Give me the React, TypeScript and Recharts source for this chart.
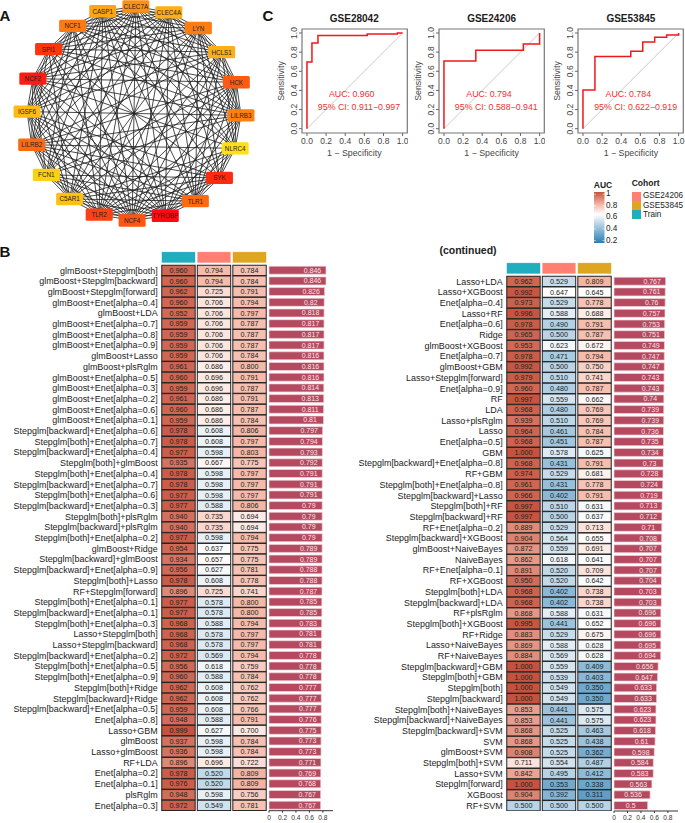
import React from "react";
import { ScatterChart, Scatter, BarChart, Bar, LineChart, Line, XAxis, YAxis, ReferenceLine, ReferenceArea, LabelList } from "recharts";

const FONT = "'Liberation Sans', Arial, sans-serif";

// ---------- Panel A ----------
const geneNames = ["CLEC7A","CLEC4A","LYN","HCLS1","HCK","LILRB3","NLRC4","SYK","TLR1","TYROBP","NCF4","TLR2","C5AR1","FCN1","LILRB2","IGSF6","NCF2","SPI1","NCF1","CASP1"];
const geneColors = ["#FF9010","#FFAE14","#FF7D10","#FFAF14","#FF5A10","#FF7F12","#FFE010","#FF2A10","#FF6A10","#FF0A12","#FF5510","#FF4010","#FFC010","#FFD010","#FF6A10","#FFBB14","#FF1A12","#FF3510","#FF7A14","#FFA515"];
// pairs (by index in geneNames) that have no edge in the network
const missingEdges = [[3,13].join(), [8,18].join(), [7,18].join(), [6,17].join(), [8,17].join(), [7,16].join(), [2,9].join(), [3,7].join(), [6,13].join(), [12,18].join(), [1,6].join(), [13,17].join(), [11,17].join(), [2,14].join(), [6,15].join(), [5,12].join(), [0,7].join(), [4,15].join()];

// ---------- Panel B, first column ----------
const namesA = ["glmBoost+Stepglm[both]","glmBoost+Stepglm[backward]","glmBoost+Stepglm[forward]","glmBoost+Enet[alpha=0.4]","glmBoost+LDA","glmBoost+Enet[alpha=0.7]","glmBoost+Enet[alpha=0.8]","glmBoost+Enet[alpha=0.9]","glmBoost+Lasso","glmBoost+plsRglm","glmBoost+Enet[alpha=0.5]","glmBoost+Enet[alpha=0.3]","glmBoost+Enet[alpha=0.2]","glmBoost+Enet[alpha=0.6]","glmBoost+Enet[alpha=0.1]","Stepglm[backward]+Enet[alpha=0.6]","Stepglm[both]+Enet[alpha=0.7]","Stepglm[backward]+Enet[alpha=0.4]","Stepglm[both]+glmBoost","Stepglm[both]+Enet[alpha=0.4]","Stepglm[backward]+Enet[alpha=0.7]","Stepglm[both]+Enet[alpha=0.6]","Stepglm[backward]+Enet[alpha=0.3]","Stepglm[both]+plsRglm","Stepglm[backward]+plsRglm","Stepglm[both]+Enet[alpha=0.2]","glmBoost+Ridge","Stepglm[backward]+glmBoost","Stepglm[backward]+Enet[alpha=0.9]","Stepglm[both]+Lasso","RF+Stepglm[forward]","Stepglm[both]+Enet[alpha=0.1]","Stepglm[backward]+Enet[alpha=0.1]","Stepglm[both]+Enet[alpha=0.3]","Lasso+Stepglm[both]","Lasso+Stepglm[backward]","Stepglm[backward]+Enet[alpha=0.2]","Stepglm[both]+Enet[alpha=0.5]","Stepglm[both]+Enet[alpha=0.9]","Stepglm[both]+Ridge","Stepglm[backward]+Ridge","Stepglm[backward]+Enet[alpha=0.5]","Enet[alpha=0.8]","Lasso+GBM","glmBoost","Lasso+glmBoost","RF+LDA","Enet[alpha=0.2]","Enet[alpha=0.1]","plsRglm","Enet[alpha=0.3]"];
const trainA = [.960,.960,.962,.960,.952,.959,.959,.959,.959,.961,.960,.959,.961,.960,.959,.978,.978,.977,.935,.978,.978,.977,.977,.940,.940,.977,.954,.934,.956,.978,.896,.977,.977,.968,.968,.968,.972,.956,.960,.962,.962,.959,.948,.999,.937,.936,.896,.978,.976,.948,.972];
const gse24206A = [.794,.794,.725,.706,.706,.706,.706,.706,.706,.686,.696,.696,.686,.686,.686,.608,.608,.598,.667,.598,.598,.598,.588,.735,.735,.598,.637,.657,.627,.608,.725,.578,.578,.588,.578,.578,.569,.618,.588,.608,.608,.608,.588,.627,.598,.598,.696,.520,.520,.598,.549];
const gse53845A = [.784,.784,.791,.794,.797,.787,.787,.787,.784,.800,.791,.787,.791,.787,.784,.806,.797,.803,.775,.797,.797,.797,.806,.694,.694,.794,.775,.775,.781,.778,.741,.800,.800,.794,.797,.797,.794,.759,.784,.762,.762,.766,.791,.700,.784,.784,.722,.809,.809,.756,.781];
const meanA = [.846,.846,.826,.82,.818,.817,.817,.817,.816,.816,.816,.814,.813,.811,.81,.797,.794,.793,.792,.791,.791,.791,.79,.79,.79,.79,.789,.789,.788,.788,.787,.785,.785,.783,.781,.781,.778,.778,.778,.777,.777,.777,.776,.775,.773,.773,.771,.769,.768,.767,.767];

// ---------- Panel B, second column ----------
const namesB = ["Lasso+LDA","Lasso+XGBoost","Enet[alpha=0.4]","Lasso+RF","Enet[alpha=0.6]","Ridge","glmBoost+XGBoost","Enet[alpha=0.7]","glmBoost+GBM","Lasso+Stepglm[forward]","Enet[alpha=0.9]","RF","LDA","Lasso+plsRglm","Lasso","Enet[alpha=0.5]","GBM","Stepglm[backward]+Enet[alpha=0.8]","RF+GBM","Stepglm[both]+Enet[alpha=0.8]","Stepglm[backward]+Lasso","Stepglm[both]+RF","Stepglm[backward]+RF","RF+Enet[alpha=0.2]","Stepglm[backward]+XGBoost","glmBoost+NaiveBayes","NaiveBayes","RF+Enet[alpha=0.1]","RF+XGBoost","Stepglm[both]+LDA","Stepglm[backward]+LDA","RF+plsRglm","Stepglm[both]+XGBoost","RF+Ridge","Lasso+NaiveBayes","RF+NaiveBayes","Stepglm[backward]+GBM","Stepglm[both]+GBM","Stepglm[both]","Stepglm[backward]","Stepglm[both]+NaiveBayes","Stepglm[backward]+NaiveBayes","Stepglm[backward]+SVM","SVM","glmBoost+SVM","Stepglm[both]+SVM","Lasso+SVM","Stepglm[forward]","XGBoost","RF+SVM"];
const trainB = [.962,.992,.973,.996,.978,.965,.953,.978,.992,.979,.960,.997,.968,.939,.964,.968,1,.968,.974,.961,.966,.997,.997,.889,.904,.872,.862,.891,.950,.968,.968,.868,.995,.883,.869,.884,1,1,1,1,.853,.853,.868,.868,.908,.711,.842,1,.904,.500];
const gse24206B = [.529,.647,.529,.588,.490,.500,.623,.471,.500,.510,.480,.559,.480,.510,.461,.451,.578,.431,.529,.431,.402,.510,.500,.529,.564,.559,.618,.520,.520,.402,.402,.588,.441,.529,.588,.569,.559,.539,.549,.549,.441,.441,.525,.525,.525,.554,.495,.353,.392,.500];
const gse53845B = [.809,.645,.778,.688,.791,.787,.672,.794,.750,.741,.787,.662,.769,.769,.784,.787,.625,.791,.681,.778,.791,.631,.637,.713,.655,.691,.641,.709,.642,.738,.738,.631,.652,.675,.628,.628,.409,.403,.350,.350,.575,.575,.463,.438,.362,.487,.412,.338,.311,.500];
const meanB = [.767,.761,.76,.757,.753,.751,.749,.747,.747,.743,.743,.74,.739,.739,.736,.735,.734,.73,.728,.724,.719,.713,.712,.71,.708,.707,.707,.707,.704,.703,.703,.696,.696,.696,.695,.694,.656,.647,.633,.633,.623,.623,.618,.61,.598,.584,.583,.563,.536,.5];

const cohortNames = ["Train","GSE24206","GSE53845"];
const cohortColors = ["#20ADBD","#FF7F73","#DDA520"];
const barTicks = [0, 0.2, 0.4, 0.6, 0.8];
const legendTicks = [1, 0.8, 0.6, 0.4, 0.2];

// ---------- Panel C ----------
const rocTitles = ["GSE28042","GSE24206","GSE53845"];
const rocAuc = ["AUC: 0.960","AUC: 0.794","AUC: 0.784"];
const rocCi = ["95% CI: 0.911\u22120.997","95% CI: 0.588\u22120.941","95% CI: 0.622\u22120.919"];
const roc1X = [0,0,.052,.052,.115,.115,.63,.63,.945,.945,1];
const roc1Y = [0,.697,.697,.895,.895,.975,.975,.99,.99,1,1];
const roc2X = [0,0,.333,.333,.83,.83,1,1];
const roc2Y = [0,.707,.707,.82,.82,.885,.885,1];
const roc3X = [0,0,.125,.125,.5,.5,.625,.625,.75,.75,.875,.875,1,1];
const roc3Y = [0,.405,.405,.755,.755,.81,.81,.905,.905,.955,.955,.98,.98,1];
const rocTicks = [0, 0.2, 0.4, 0.6, 0.8, 1];

// ---------- helpers ----------
const heatStops: [number, number[]][] = [[0.2,[42,126,180]],[0.65,[255,255,255]],[0.8,[245,185,169]],[1,[197,82,62]]];
function heat(v: number) {
  const c = Math.min(1, Math.max(0.2, v));
  for (let i = 1; i < heatStops.length; i++) {
    if (c <= heatStops[i][0]) {
      const [a, ca] = heatStops[i - 1];
      const [b, cb] = heatStops[i];
      const t = (c - a) / (b - a);
      return `rgb(${ca.map((q, k) => Math.round(q + (cb[k] - q) * t)).join(",")})`;
    }
  }
  return "rgb(197,82,62)";
}

function T({ x, y, size = 8.5, bold, color = "#222", rotate, children }: any) {
  return (
    <div style={{ position: "absolute", left: x, top: y, fontFamily: FONT, fontSize: size, fontWeight: bold ? 700 : 400, color, whiteSpace: "nowrap", lineHeight: 1, transform: `translate(-50%,-50%)${rotate ? ` rotate(${rotate}deg)` : ""}` }}>
      {children}
    </div>
  );
}

const ROW = 10.7;
const LABEL_FONT = 8.95;

function Network() {
  const nodes = geneNames.map((name, i) => {
    const a = ((i * 18 + 1) * Math.PI) / 180;
    return { name, color: geneColors[i], x: 134 + 107 * Math.sin(a), y: 113.5 - 107 * Math.cos(a) };
  });
  const edges: any[] = [];
  for (let i = 0; i < nodes.length; i++)
    for (let j = i + 1; j < nodes.length; j++)
      if (!missingEdges.includes([i, j].join())) edges.push([nodes[i], nodes[j]]);
  const shape = (p: any) => (
    <g>
      <rect x={p.cx - 13.5} y={p.cy - 6.2} width={27} height={12.4} rx={1.5} fill={p.payload.color} />
      <text x={p.cx} y={p.cy} textAnchor="middle" dominantBaseline="central" fontSize={6.3} fontFamily={FONT} fill="#222">{p.payload.name}</text>
    </g>
  );
  return (
    <div style={{ position: "absolute", left: 0, top: 0 }}>
      <ScatterChart width={270} height={240} margin={{ top: 0, right: 0, bottom: 0, left: 0 }}>
        <XAxis type="number" dataKey="x" domain={[0, 270]} hide />
        <YAxis type="number" dataKey="y" domain={[0, 240]} reversed hide />
        {edges.map(([a, b], i) => (
          <ReferenceLine key={i} segment={[{ x: a.x, y: a.y }, { x: b.x, y: b.y }]} stroke="#1c1c1c" strokeWidth={0.8} />
        ))}
        <Scatter data={nodes} isAnimationActive={false} shape={shape} />
      </ScatterChart>
    </div>
  );
}

function Table({ names, train, a, b, mean, left, top }: any) {
  const n = names.length;
  const HEAD = 1.5;
  const series = [train, a, b];
  const cells = series.map((vals: number[], c: number) => vals.map((v, r) => ({ x: c + 0.5, y: r + 0.5, v })));
  const head = cohortColors.map((color, c) => ({ x: c + 0.5, y: -0.72, color }));
  const cellShape = (p: any) => (
    <g>
      <rect x={p.cx - 16.7} y={p.cy - ROW / 2 + 0.2} width={33.4} height={ROW - 0.4} fill={heat(p.payload.v)} stroke="#222" strokeWidth={1} />
      <text x={p.cx} y={p.cy} textAnchor="middle" dominantBaseline="central" fontSize={7.2} fontFamily={FONT} fill="#222">{p.payload.v.toFixed(3)}</text>
    </g>
  );
  const headShape = (p: any) => <rect x={p.cx - 16.8} y={p.cy - 5.5} width={33.6} height={11} fill={p.payload.color} stroke="#ffffff" strokeOpacity={0.6} strokeWidth={0.5} />;
  const ticks = names.map((_: string, i: number) => i + 0.5);
  const barData = names.map((name: string, i: number) => ({ name, mean: mean[i] }));
  const barLabel = (p: any) => {
    const val = Number(p.value);
    const off = val < 0.55 ? 17 : 13.5;
    return <text x={p.x + p.width - off} y={p.y + p.height / 2} textAnchor="middle" dominantBaseline="central" fontSize={7} fontFamily={FONT} fill="#f6e3e7">{String(val)}</text>;
  };
  const plotLeft = 160.7;
  const plotW = 106.6;
  return (
    <>
      <div style={{ position: "absolute", left, top: top - HEAD * ROW }}>
        <ScatterChart width={plotLeft + plotW + 1} height={(n + HEAD) * ROW} margin={{ top: 0, right: 1, bottom: 0, left: 0 }}>
          <XAxis type="number" dataKey="x" domain={[0, 3]} hide />
          <YAxis type="number" dataKey="y" domain={[-HEAD, n]} reversed ticks={ticks} interval={0} width={plotLeft} axisLine={false} tickLine={false} tickSize={0} tickMargin={3}
            tickFormatter={(v: number) => names[Math.floor(v)]} tick={{ fontSize: LABEL_FONT, fontFamily: FONT, fill: "#222" }} />
          <Scatter data={head} isAnimationActive={false} shape={headShape} />
          {cells.map((d: any, i: number) => (
            <Scatter key={i} data={d} name={cohortNames[i]} isAnimationActive={false} shape={cellShape} />
          ))}
        </ScatterChart>
      </div>
      <div style={{ position: "absolute", left: left + 269.3 - 6, top }}>
        <BarChart width={78} height={n * ROW + 16} data={barData} layout="vertical" barCategoryGap={1.2} margin={{ top: 0, right: 8, bottom: 0, left: 6 }}>
          <XAxis type="number" domain={[0, 0.95]} ticks={barTicks} interval={0} height={16} tickSize={2} tickMargin={2.5} stroke="#333" tick={{ fontSize: 6.6, fontFamily: FONT, fill: "#333" }} tickFormatter={(v: number) => String(v)} />
          <YAxis type="category" dataKey="name" hide />
          <Bar dataKey="mean" fill="#B5495F" stroke="#F3D6DC" strokeWidth={0.7} isAnimationActive={false}>
            <LabelList dataKey="mean" content={barLabel} />
          </Bar>
        </BarChart>
      </div>
    </>
  );
}

function Roc({ xs, ys, left, idx }: any) {
  const data = xs.map((x: number, i: number) => ({ x, y: ys[i] }));
  const YT = (p: any) => (
    <text x={p.x - 5.2} y={p.y} transform={`rotate(-90 ${p.x - 5.2} ${p.y})`} textAnchor="middle" dominantBaseline="central" fontSize={8.5} fontFamily={FONT} fill="#444">{Number(p.payload.value).toFixed(1)}</text>
  );
  const boxW = 105.3, boxH = 104, AX = 34, BOT = 16, PAD = 10;
  return (
    <div style={{ position: "absolute", left: left - AX, top: 29.3 }}>
      <div style={{ position: "absolute", left: 0, top: -PAD }}>
        <LineChart width={AX + boxW + 1} height={boxH + BOT + PAD} data={data} margin={{ top: PAD, right: 1, bottom: 0, left: 0 }}>
          <XAxis type="number" dataKey="x" domain={[-0.052, 1.049]} ticks={rocTicks} interval={0} height={BOT} axisLine={false} tickSize={3} tickMargin={1.5} stroke="#666"
            tick={{ fontSize: 8.5, fontFamily: FONT, fill: "#444" }} tickFormatter={(v: number) => v.toFixed(1)} />
          <YAxis type="number" dataKey="y" domain={[-0.045, 1.042]} ticks={rocTicks} interval={0} width={AX} axisLine={false} tickSize={3} tickMargin={0} stroke="#666" tick={YT} />
          <ReferenceArea x1={-0.052} x2={1.049} y1={-0.045} y2={1.042} fill="none" stroke="#777" strokeWidth={1.2} fillOpacity={0} />
          <ReferenceLine segment={[{ x: 0, y: 0 }, { x: 1, y: 1 }]} stroke="#bdbdbd" strokeWidth={0.8} />
          <Line dataKey="y" type="linear" stroke="#F01818" strokeWidth={1.5} dot={false} isAnimationActive={false} />
        </LineChart>
      </div>
      <T x={AX + 52.6} y={-10.3} size={10} bold color="#1c1c1c">{rocTitles[idx]}</T>
      <T x={AX + 50} y={64.7} size={8.8} color="#F03030">{rocAuc[idx]}</T>
      <T x={AX + 57.3} y={77.4} size={8.8} color="#F03030">{rocCi[idx]}</T>
      <T x={AX + 52.6} y={123.7} size={8.8} color="#444">1 − Specificity</T>
      <T x={AX - 21} y={52} size={8.8} color="#444" rotate={-90}>Sensitivity</T>
    </div>
  );
}

function Legends() {
  const grad = Array.from({ length: 17 }, (_, i) => 1 - (i * 0.8) / 16);
  return (
    <>
      <T x={603} y={185} size={8.5} bold>AUC</T>
      <svg style={{ position: "absolute", left: 594, top: 192 }} width={11} height={51}>
        <defs>
          <linearGradient id="aucg" x1="0" y1="0" x2="0" y2="1">
            {grad.map((v, i) => <stop key={i} offset={`${(i / 16) * 100}%`} stopColor={heat(v)} />)}
          </linearGradient>
        </defs>
        <rect width={10.5} height={51} fill="url(#aucg)" />
        {legendTicks.map((v, i) => (
          <g key={i}>
            <line x1={0} x2={2} y1={2.2 + i * 11.6} y2={2.2 + i * 11.6} stroke="#fff" strokeWidth={0.6} />
            <line x1={8.5} x2={10.5} y1={2.2 + i * 11.6} y2={2.2 + i * 11.6} stroke="#fff" strokeWidth={0.6} />
          </g>
        ))}
      </svg>
      {legendTicks.map((v, i) => (
        <div key={i} style={{ position: "absolute", left: 606, top: 194.2 + i * 11.6, transform: "translateY(-50%)", fontFamily: FONT, fontSize: 8.2, color: "#222", lineHeight: 1 }}>{v}</div>
      ))}
      <div style={{ position: "absolute", left: 631.7, top: 179, fontFamily: FONT, fontSize: 8.5, fontWeight: 700, color: "#222", lineHeight: 1 }}>Cohort</div>
      {[1, 2, 0].map((c, i) => (
        <React.Fragment key={c}>
          <div style={{ position: "absolute", left: 632.3, top: 192 + i * 9.2, width: 9, height: 8.8, background: cohortColors[c] }} />
          <div style={{ position: "absolute", left: 643, top: 196.4 + i * 9.2, transform: "translateY(-50%)", fontFamily: FONT, fontSize: 8.2, color: "#222", lineHeight: 1 }}>{cohortNames[c]}</div>
        </React.Fragment>
      ))}
    </>
  );
}

export default function App() {
  return (
    <div style={{ position: "absolute", left: 0, top: 0, width: 685, height: 823, overflow: "hidden", background: "#fff" }}>
      <Network />
      <Roc xs={roc1X} ys={roc1Y} left={301.7} idx={0} />
      <Roc xs={roc2X} ys={roc2Y} left={439} idx={1} />
      <Roc xs={roc3X} ys={roc3Y} left={578.3} idx={2} />
      <Legends />
      <Table names={namesA} train={trainA} a={gse24206A} b={gse53845A} mean={meanA} left={0} top={265.35} />
      <Table names={namesB} train={trainB} a={gse24206B} b={gse53845B} mean={meanB} left={344.6} top={275.65} />
      <T x={5} y={15} size={15} bold color="#111">A</T>
      <T x={5} y={251} size={15} bold color="#111">B</T>
      <T x={268} y={15} size={15} bold color="#111">C</T>
      <T x={468} y={249.5} size={10.5} bold color="#222">(continued)</T>
    </div>
  );
}
